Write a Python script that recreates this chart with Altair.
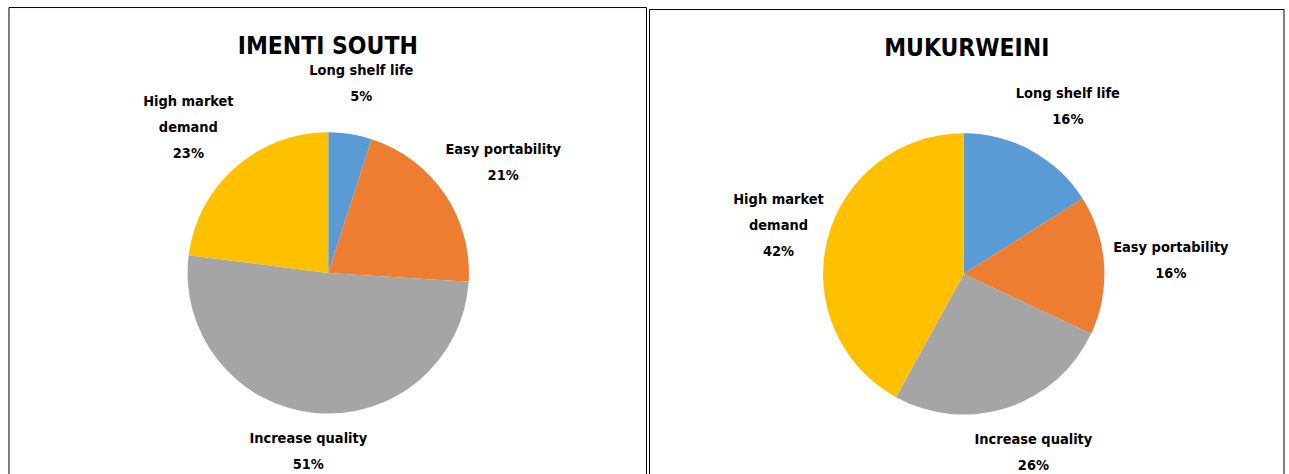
import altair as alt
import pandas as pd

# ---- data ----
categories = ["Long shelf life", "Easy portability", "Increase quality", "High market demand"]
label_names = ["Long shelf life", "Easy portability", "Increase quality", "High market\ndemand"]
imenti_south = [5, 21, 51, 23]
mukurweini = [16, 16, 26, 42]
titles = ["IMENTI SOUTH", "MUKURWEINI"]
colors = ["#5B9BD5", "#ED7D31", "#A5A5A5", "#FFC000"]

FONT = "DejaVu Sans Condensed, sans-serif"
LINE_H = 26


def panel(title, values, w, h, cx, cy, r, lcx, lcy, lrx, lry, title_y, ftop):
    df = pd.DataFrame({
        "category": categories,
        "value": values,
        "idx": list(range(len(categories))),
        "label": [f"{n}\n{v}%" for n, v in zip(label_names, values)],
    })
    base = alt.Chart(df)
    theta = alt.Theta("value:Q", stack=True)
    order = alt.Order("idx:Q")
    arc = base.mark_arc(x=cx, y=cy, outerRadius=r).encode(
        theta=theta,
        order=order,
        color=alt.Color("category:N", scale=alt.Scale(domain=categories, range=colors), legend=None),
    )
    text = base.transform_joinaggregate(
        total="sum(value)"
    ).transform_window(
        cum="sum(value)", sort=[alt.SortField("idx", order="ascending")]
    ).transform_calculate(
        mid="(datum.cum - datum.value / 2) / datum.total * 2 * PI",
        nl="length(split(datum.label, '\\n'))",
    ).transform_calculate(
        lx=f"{lcx} + {lrx} * sin(datum.mid)",
        ly=f"{lcy} - {lry} * cos(datum.mid) - (datum.nl - 1) * {LINE_H / 2}",
    ).mark_text(
        font=FONT, fontSize=14.5, fontWeight="bold", lineHeight=LINE_H, lineBreak="\n",
        color="black", align="center", baseline="middle",
    ).encode(
        x=alt.X("lx:Q", scale=None),
        y=alt.Y("ly:Q", scale=None),
        text="label:N",
    )
    ttl = alt.Chart(pd.DataFrame({"t": [title]})).mark_text(
        font=FONT, fontSize=24.5, fontWeight="bold", color="black", align="center", baseline="middle"
    ).encode(text="t:N", x=alt.value(w / 2), y=alt.value(title_y))
    one = pd.DataFrame({"a": [0]})
    left = alt.Chart(one).mark_rule(color="black", strokeWidth=1).encode(
        x=alt.value(0), y=alt.value(ftop), y2=alt.value(h))
    top = alt.Chart(one).mark_rule(color="black", strokeWidth=1).encode(
        x=alt.value(0), x2=alt.value(w), y=alt.value(ftop))
    right = alt.Chart(one).mark_rule(color="black", strokeWidth=1).encode(
        x=alt.value(w), y=alt.value(ftop), y2=alt.value(h))
    return alt.layer(arc, text, ttl, left, top, right).properties(width=w, height=h)


p1 = panel(titles[0], imenti_south, 639, 468, 320, 266, 141, 320, 260, 212, 186, 40, 0)
p2 = panel(titles[1], mukurweini, 636, 468, 315, 267, 141, 323, 266, 200, 190, 42, 2)

chart = alt.hconcat(p1, p2, spacing=1).properties(
    padding={"left": 8, "top": 6, "right": 4, "bottom": 0}
).configure_view(strokeWidth=0)

chart.save("out.html", embed_options={"renderer": "svg", "actions": False})
